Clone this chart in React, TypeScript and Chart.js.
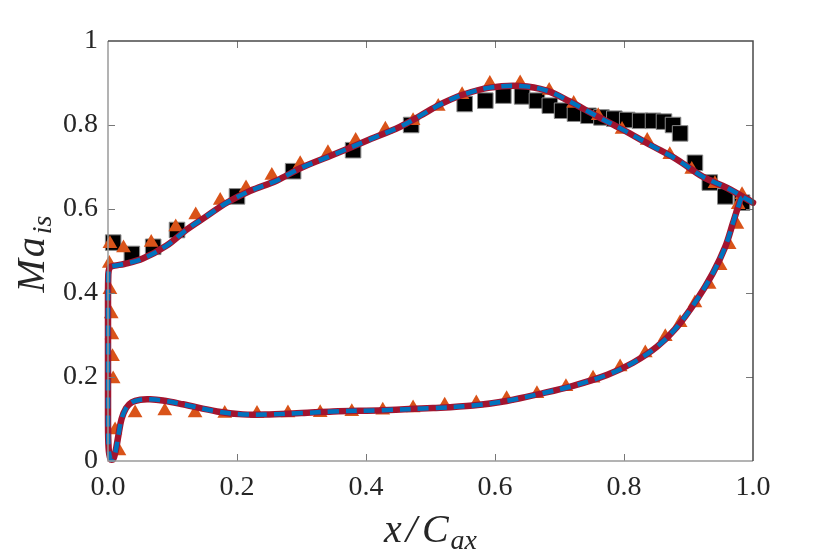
import React, { useEffect, useRef } from 'react';
import { Chart, registerables } from 'chart.js';

Chart.register(...registerables);

// Experimental data (black squares)
const expX = [0.008, 0.037, 0.07, 0.107, 0.2, 0.287, 0.38, 0.47, 0.553, 0.585, 0.613, 0.642, 0.665, 0.685, 0.704, 0.724, 0.745, 0.765, 0.785, 0.805, 0.825, 0.845, 0.862, 0.876, 0.887, 0.91, 0.933, 0.957, 0.983];
const expY = [0.52, 0.493, 0.51, 0.55, 0.63, 0.69, 0.74, 0.8, 0.85, 0.858, 0.87, 0.868, 0.858, 0.846, 0.834, 0.827, 0.822, 0.818, 0.815, 0.812, 0.81, 0.81, 0.808, 0.8, 0.78, 0.71, 0.663, 0.63, 0.615];

// Reference simulation (orange triangles)
const triX = [0.002, 0.003, 0.024, 0.067, 0.105, 0.136, 0.174, 0.214, 0.254, 0.298, 0.341, 0.384, 0.43, 0.473, 0.512, 0.549, 0.592, 0.639, 0.684, 0.722, 0.76, 0.797, 0.836, 0.871, 0.905, 0.941, 0.983,
  0.003, 0.005, 0.006, 0.007, 0.008, 0.011, 0.017,
  0.042, 0.088, 0.135, 0.181, 0.231, 0.279, 0.329, 0.378, 0.426, 0.473, 0.522, 0.571, 0.618, 0.665, 0.71, 0.752, 0.794, 0.833, 0.864, 0.887, 0.91, 0.932, 0.949, 0.963, 0.975, 0.977];
const triY = [0.47, 0.517, 0.507, 0.52, 0.557, 0.586, 0.62, 0.65, 0.68, 0.708, 0.734, 0.763, 0.79, 0.81, 0.844, 0.872, 0.899, 0.9, 0.882, 0.851, 0.822, 0.789, 0.763, 0.729, 0.694, 0.66, 0.634,
  0.408, 0.35, 0.3, 0.248, 0.195, 0.074, 0.024,
  0.114, 0.119, 0.114, 0.113, 0.113, 0.114, 0.115, 0.117, 0.121, 0.126, 0.133, 0.138, 0.148, 0.16, 0.177, 0.197, 0.224, 0.257, 0.296, 0.329, 0.376, 0.42, 0.465, 0.515, 0.563, 0.61];

// Simulation curves (red solid / blue dashed), trailing edge -> suction side -> leading edge -> pressure side
const curveX = [1.0, 0.96, 0.922, 0.882, 0.84, 0.798, 0.758, 0.716, 0.68, 0.639, 0.592, 0.55, 0.515, 0.484, 0.453, 0.4, 0.349, 0.298, 0.262, 0.22, 0.184, 0.153, 0.122, 0.091, 0.054, 0.025, 0.01, 0.003, 0.0005, 0.0, 0.0, 0.0, 0.001, 0.004, 0.008, 0.012, 0.016, 0.021, 0.028, 0.037, 0.05, 0.065, 0.085, 0.116, 0.169, 0.209, 0.25, 0.3, 0.349, 0.426, 0.504, 0.566, 0.618, 0.67, 0.721, 0.774, 0.814, 0.851, 0.882, 0.913, 0.938, 0.957, 0.969, 0.977, 0.984, 1.0];
const curveY = [0.615, 0.65, 0.677, 0.718, 0.753, 0.789, 0.821, 0.856, 0.882, 0.893, 0.889, 0.872, 0.849, 0.822, 0.796, 0.762, 0.729, 0.697, 0.668, 0.643, 0.615, 0.583, 0.551, 0.513, 0.482, 0.469, 0.465, 0.461, 0.445, 0.38, 0.25, 0.1, 0.03, 0.004, 0.004, 0.025, 0.06, 0.1, 0.126, 0.14, 0.146, 0.147, 0.144, 0.135, 0.118, 0.111, 0.111, 0.114, 0.118, 0.121, 0.126, 0.132, 0.143, 0.16, 0.179, 0.205, 0.234, 0.272, 0.319, 0.384, 0.448, 0.51, 0.567, 0.605, 0.628, 0.615];

const xTicks = [0, 0.2, 0.4, 0.6, 0.8, 1.0];
const yTicks = [0, 0.2, 0.4, 0.6, 0.8, 1.0];

const pts = (xs: number[], ys: number[]) => xs.map((x, i) => ({ x, y: ys[i] }));

const SERIF = '"Liberation Serif", "Times New Roman", serif';

type Piece = { t: string; sub?: boolean; gap: number };

function drawPieces(ctx: CanvasRenderingContext2D, pieces: Piece[], cx: number, base: number, main: string, sub: string, subDrop: number) {
  let total = 0;
  const widths = pieces.map((p) => {
    ctx.font = p.sub ? sub : main;
    const w = ctx.measureText(p.t).width;
    total += w + p.gap;
    return w;
  });
  let x = cx - total / 2;
  pieces.forEach((p, i) => {
    ctx.font = p.sub ? sub : main;
    ctx.fillText(p.t, x, p.sub ? base + subDrop : base);
    x += widths[i] + p.gap;
  });
}

const framePlugin = {
  id: 'frame',
  afterDraw(chart: any) {
    const { ctx, chartArea: a, scales } = chart;
    const xs = scales.x;
    const ys = scales.y;
    ctx.save();
    ctx.lineWidth = 1;
    ctx.strokeStyle = '#777';
    const tl = 7;
    ctx.beginPath();
    for (const v of xTicks) {
      if (v === 0 || v === 1) continue;
      const px = Math.round(xs.getPixelForValue(v)) + 0.5;
      ctx.moveTo(px, a.bottom); ctx.lineTo(px, a.bottom - tl);
      ctx.moveTo(px, a.top); ctx.lineTo(px, a.top + tl);
    }
    for (const v of yTicks) {
      if (v === 0 || v === 1) continue;
      const py = Math.round(ys.getPixelForValue(v)) + 0.5;
      ctx.moveTo(a.left, py); ctx.lineTo(a.left + tl, py);
      ctx.moveTo(a.right, py); ctx.lineTo(a.right - tl, py);
    }
    ctx.stroke();
    // frame
    ctx.lineWidth = 1.5;
    ctx.strokeStyle = '#9a9a9a';
    ctx.beginPath();
    ctx.moveTo(a.left, a.top); ctx.lineTo(a.left, a.bottom); ctx.lineTo(a.right, a.bottom);
    ctx.stroke();
    ctx.strokeStyle = '#4a4a4a';
    ctx.beginPath();
    ctx.moveTo(a.left, a.top); ctx.lineTo(a.right, a.top); ctx.lineTo(a.right, a.bottom);
    ctx.stroke();

    // axis titles
    ctx.fillStyle = '#262626';
    ctx.textBaseline = 'alphabetic';
    ctx.textAlign = 'left';
    const main = 'italic 40px ' + SERIF;
    const sub = 'italic 28px ' + SERIF;
    const cx = (a.left + a.right) / 2;
    drawPieces(ctx, [
      { t: 'x', gap: 4 },
      { t: '/', gap: 5 },
      { t: 'C', gap: 2 },
      { t: 'ax', sub: true, gap: 0 },
    ], cx, 542, main, sub, 7);

    ctx.save();
    ctx.translate(44, 254);
    ctx.rotate(-Math.PI / 2);
    drawPieces(ctx, [
      { t: 'M', gap: 2 },
      { t: 'a', gap: 3 },
      { t: 'is', sub: true, gap: 0 },
    ], 0, 0, main, sub, 7);
    ctx.restore();
    ctx.restore();
  },
};

export default function App() {
  const ref = useRef<HTMLCanvasElement | null>(null);
  useEffect(() => {
    if (!ref.current) return;
    const chart = new Chart(ref.current, {
      type: 'scatter',
      data: {
        datasets: [
          {
            label: 'Experiment',
            data: pts(expX, expY),
            pointStyle: 'rect',
            pointRadius: 11,
            backgroundColor: '#000000',
            borderColor: '#8a8a8a',
            borderWidth: 1,
            order: 4,
            clip: false,
          },
          {
            label: 'Reference',
            data: pts(triX, triY),
            pointStyle: 'triangle',
            pointRadius: 8.5,
            backgroundColor: '#D95319',
            borderColor: '#D95319',
            borderWidth: 0,
            order: 3,
            clip: false,
          },
          {
            label: 'Sim A',
            data: pts(curveX, curveY),
            showLine: true,
            pointRadius: 0,
            borderColor: '#A2142F',
            borderWidth: 6.5,
            tension: 0.35,
            borderCapStyle: 'round',
            borderJoinStyle: 'round',
            order: 2,
            clip: false,
          },
          {
            label: 'Sim B',
            data: pts(curveX, curveY),
            showLine: true,
            pointRadius: 0,
            borderColor: '#0072BD',
            borderWidth: 4.5,
            borderDash: [11, 7],
            tension: 0.35,
            order: 1,
            clip: false,
          },
        ] as any,
      },
      options: {
        animation: false,
        responsive: false,
        devicePixelRatio: 1,
        layout: { padding: { top: 41, right: 78, left: 0, bottom: 0 } },
        plugins: { legend: { display: false }, tooltip: { enabled: false } },
        scales: {
          x: {
            type: 'linear',
            min: 0,
            max: 1,
            afterFit: (s: any) => { s.height = 93; },
            afterBuildTicks: (s: any) => { s.ticks = xTicks.map((v) => ({ value: v })); },
            grid: { display: false, drawTicks: false },
            border: { display: false },
            ticks: {
              padding: 10,
              color: '#262626',
              font: { family: SERIF, size: 28 },
              callback: (v: any) => Number(v).toFixed(1),
            },
          },
          y: {
            type: 'linear',
            min: 0,
            max: 1,
            afterFit: (s: any) => { s.width = 108; },
            afterBuildTicks: (s: any) => { s.ticks = yTicks.map((v) => ({ value: v })); },
            grid: { display: false, drawTicks: false },
            border: { display: false },
            ticks: {
              padding: 10,
              color: '#262626',
              font: { family: SERIF, size: 28 },
              callback: (v: any) => (v === 0 || v === 1 ? String(v) : Number(v).toFixed(1)),
            },
          },
        },
      },
      plugins: [framePlugin],
    });
    return () => chart.destroy();
  }, []);
  return (
    <div style={{ position: 'absolute', left: 0, top: 0, width: 831, height: 554, background: '#fff' }}>
      <canvas ref={ref} width={831} height={554} style={{ display: 'block', width: 831, height: 554 }} />
    </div>
  );
}
